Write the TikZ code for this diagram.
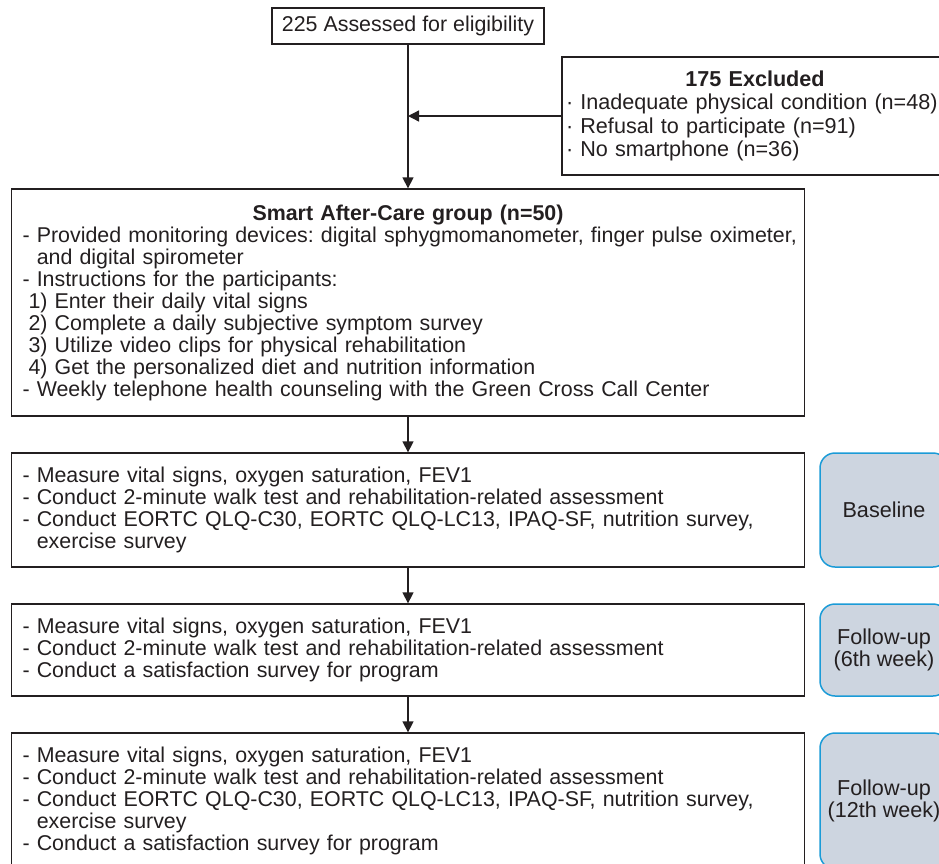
\documentclass[tikz,border=0pt]{standalone}
\usepackage{fontspec}
\setmainfont{Liberation Sans}
\usetikzlibrary{positioning,arrows.meta}
\definecolor{inkgrey}{HTML}{231F20}
\definecolor{stagefill}{HTML}{CDD5E0}
\definecolor{stageline}{HTML}{1B9BD7}
\setlength{\parindent}{0pt}
\setlength{\parskip}{0pt}
\frenchspacing

\begin{document}
\begin{tikzpicture}[
    x=1pt, y=-1pt,
    flowbox/.style={draw=inkgrey, line width=1.3pt, text=inkgrey, align=left,
        inner xsep=11pt, inner ysep=0pt, font=\fontsize{21.4}{22}\selectfont},
    stagebox/.style={draw=stageline, fill=stagefill, line width=1.5pt,
        rounded corners=15pt, text=inkgrey, align=center, minimum width=128pt,
        font=\fontsize{21.6}{22}\selectfont},
    flowarrow/.style={draw=inkgrey, line width=1.3pt,
        -{Triangle[length=11pt,width=11pt]}}
]
    \useasboundingbox (0,0) rectangle (939,863);
    \clip (0,0) rectangle (939,863);

    % Recrutement
    \node[flowbox, align=center, inner xsep=5pt, minimum width=272pt, minimum height=36pt]
        (assess) at (408,26) {225 Assessed for eligibility};
    \node[flowbox, text width=378pt, inner xsep=4pt, minimum height=118pt,
        font=\fontsize{21.6}{23.5}\selectfont] (excl) at (755,116)
        {{\centering\bfseries 175 Excluded\par}
         \mbox{· Inadequate physical condition (n=48)}\\
         · Refusal to participate (n=91)\\
         · No smartphone (n=36)};

    % Groupe
    \node[flowbox, text width=771pt, minimum height=227pt] (group) at (408,302.5)
        {{\centering\bfseries Smart After-Care group (n=50)\par}
         \mbox{- Provided monitoring devices: digital sphygmomanometer, finger pulse oximeter,}\\
         \hphantom{- }and digital spirometer\\
         - Instructions for the participants:\\
         \hspace*{6pt}1) Enter their daily vital signs\\
         \hspace*{6pt}2) Complete a daily subjective symptom survey\\
         \hspace*{6pt}3) Utilize video clips for physical rehabilitation\\
         \hspace*{6pt}4) Get the personalized diet and nutrition information\\
         - Weekly telephone health counseling with the Green Cross Call Center};

    % Evaluations
    \node[flowbox, text width=771pt, minimum height=114pt] (base) at (408,510)
        {- Measure vital signs, oxygen saturation, FEV1\\
         - Conduct 2-minute walk test and rehabilitation-related assessment\\
         - Conduct EORTC QLQ-C30, EORTC QLQ-LC13, IPAQ-SF, nutrition survey,\\
         \hphantom{- }exercise survey};
    \node[flowbox, text width=771pt, minimum height=92pt] (fu6) at (408,650)
        {- Measure vital signs, oxygen saturation, FEV1\\
         - Conduct 2-minute walk test and rehabilitation-related assessment\\
         - Conduct a satisfaction survey for program};
    \node[flowbox, text width=771pt, minimum height=136pt] (fu12) at (408,801)
        {- Measure vital signs, oxygen saturation, FEV1\\
         - Conduct 2-minute walk test and rehabilitation-related assessment\\
         - Conduct EORTC QLQ-C30, EORTC QLQ-LC13, IPAQ-SF, nutrition survey,\\
         \hphantom{- }exercise survey\\
         - Conduct a satisfaction survey for program};

    % Etapes
    \node[stagebox, minimum height=114pt] (sbase) at (884,510) {Baseline};
    \node[stagebox, minimum height=92pt] (sfu6) at (884,650) {Follow-up\\(6th week)};
    \node[stagebox, minimum height=136pt] (sfu12) at (884,801) {Follow-up\\(12th week)};

    % Fleches
    \coordinate (join) at (assess.south |- excl.west);
    \draw[flowarrow] (assess) -- (group);
    \draw[flowarrow] (excl) -- (join);
    \draw[flowarrow] (group) -- (base);
    \draw[flowarrow] (base) -- (fu6);
    \draw[flowarrow] (fu6) -- (fu12);
\end{tikzpicture}
\end{document}
